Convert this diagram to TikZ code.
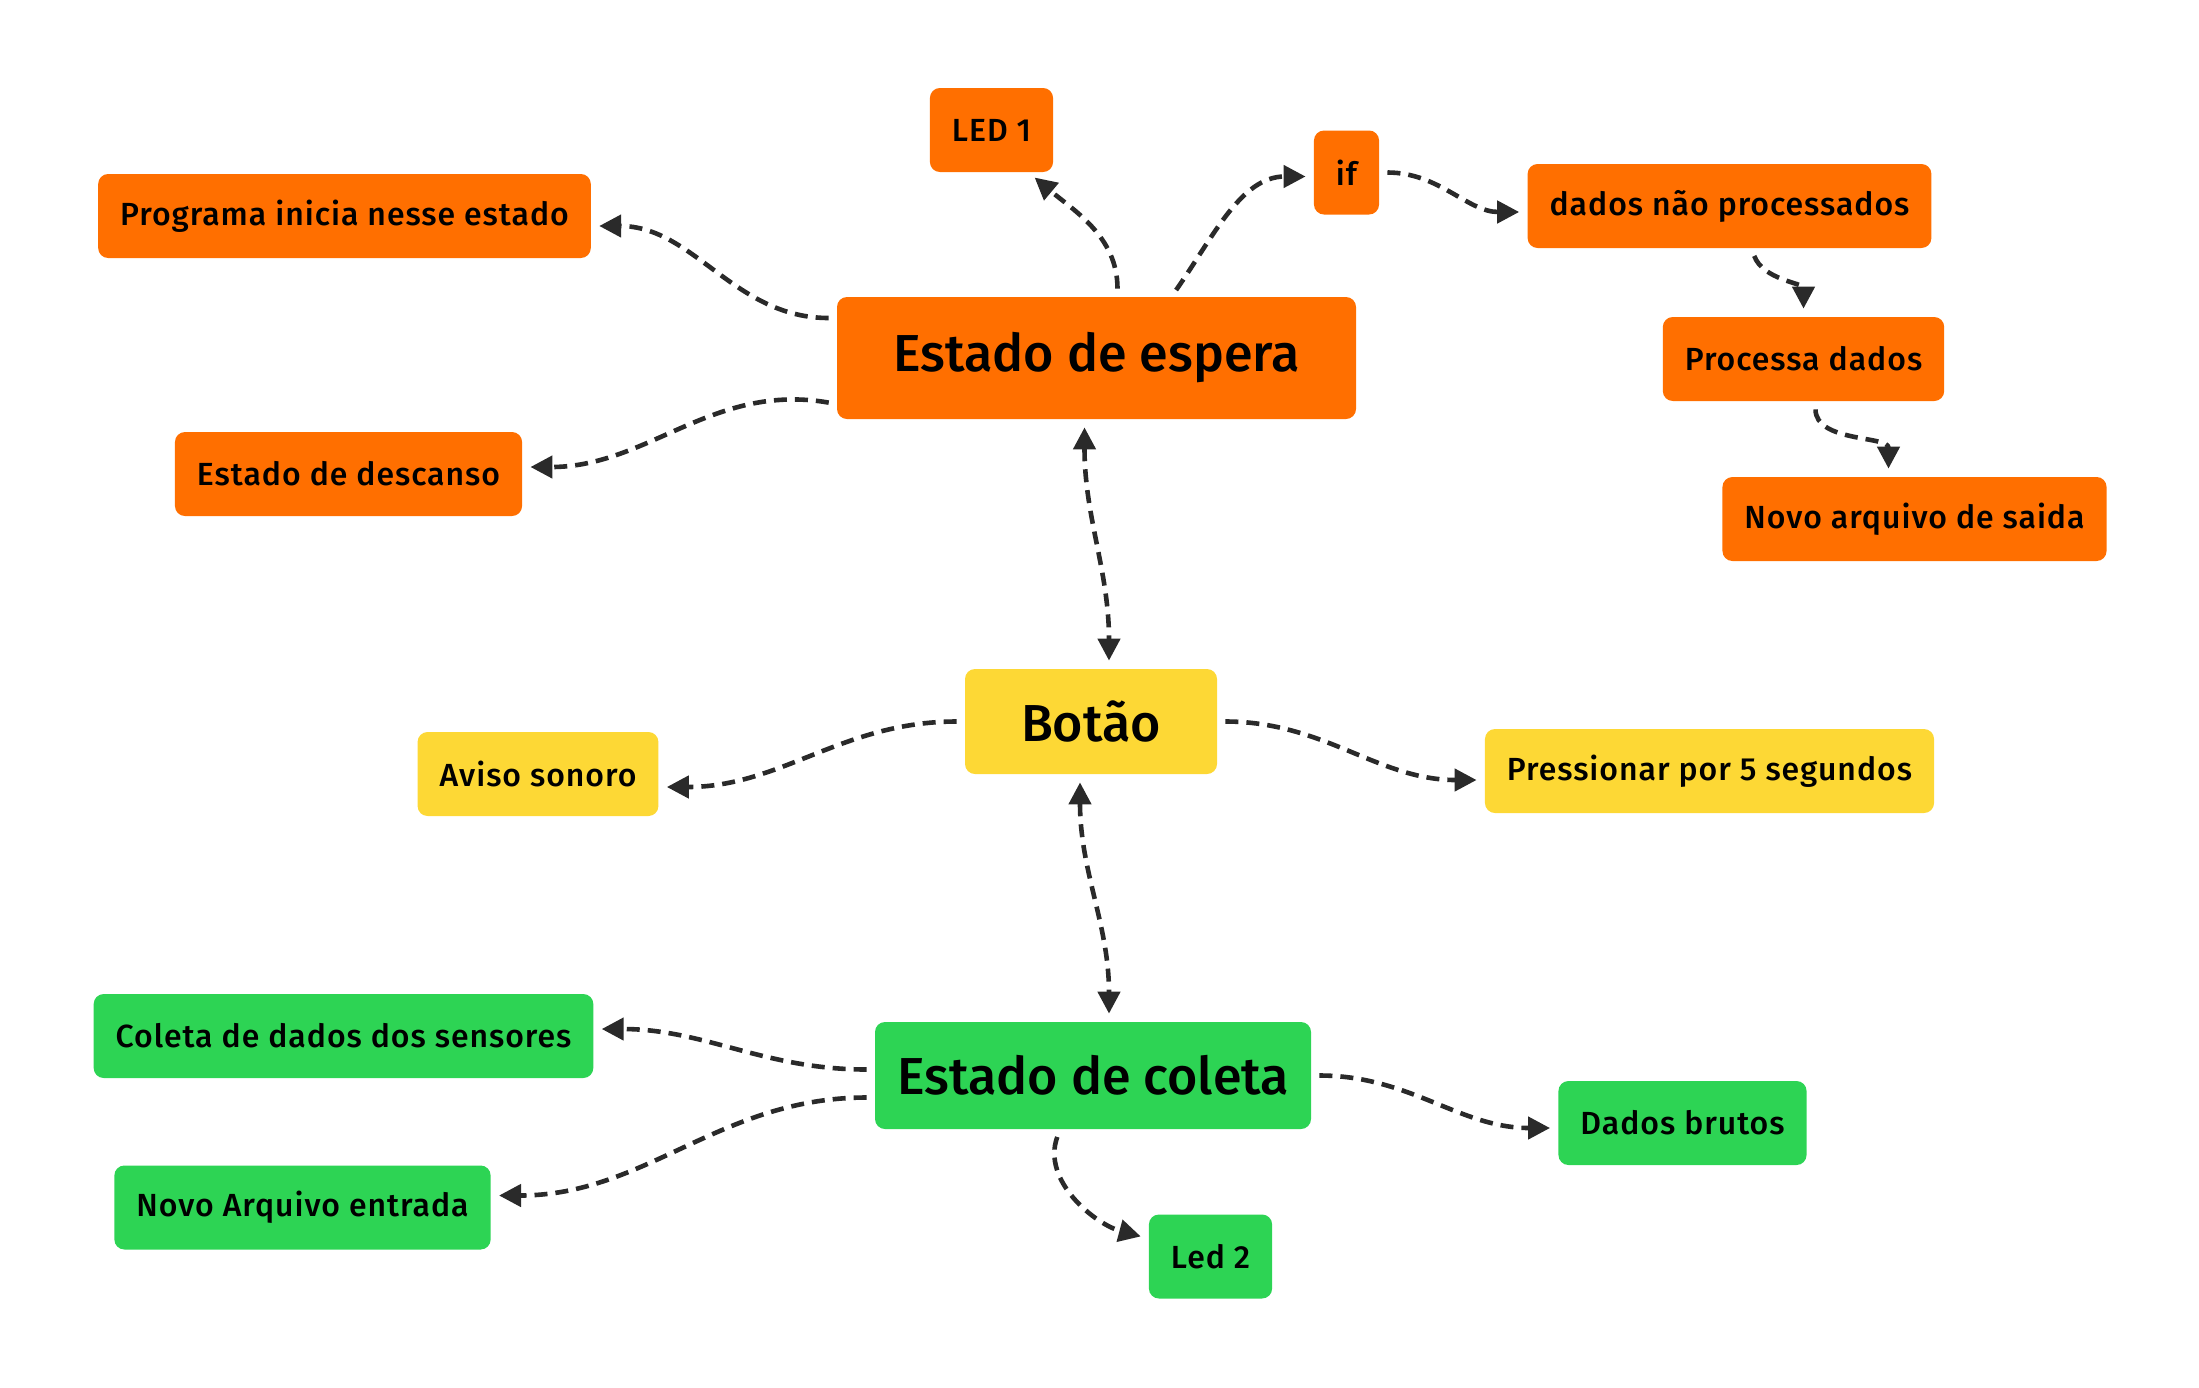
\documentclass[tikz,border=0pt]{standalone}
\usepackage{fontspec}
\setmainfont{Fira Sans}[UprightFont = * Medium]
\newfontfamily\boxfont{Fira Sans}[UprightFont = * Medium, LetterSpace = 3]
\usetikzlibrary{arrows.meta}

\definecolor{esperaOrange}{RGB}{255,111,0}
\definecolor{botaoYellow}{RGB}{253,216,53}
\definecolor{coletaGreen}{RGB}{45,212,84}
\definecolor{linkGray}{RGB}{42,42,42}

\tikzset{
  box/.style={rounded corners=5pt, inner xsep=11pt, inner ysep=0pt,
              minimum height=42pt, text=black,
              font=\boxfont\fontsize{16}{19}\selectfont},
  bigbox/.style={rounded corners=5pt, inner xsep=0pt, inner ysep=0pt,
                 text=black, font=\fontsize{26}{30}\selectfont},
  espera/.style={fill=esperaOrange},
  botao/.style={fill=botaoYellow},
  coleta/.style={fill=coletaGreen},
  link/.style={->, line width=2.3pt, draw=linkGray,
               dash pattern=on 6.5pt off 4pt,
               shorten <=4pt, shorten >=4pt},
}

\begin{document}
\begin{tikzpicture}[x=0.5pt, y=-0.5pt,
    >={Triangle[length=11pt, width=11pt]}, line join=round]

  \useasboundingbox (0,0) rectangle (2199,1387);

  % ── Estado de espera ─────────────────────────────────────────────────────

  \node[bigbox, espera, minimum width=259.5pt, minimum height=61pt]
    (espera) at (1096.5, 358) {Estado de espera};

  \node[box, espera] (programa) at (344.5, 216) {Programa inicia nesse estado};
  \node[box, espera] (descanso) at (348.5, 474) {Estado de descanso};
  \node[box, espera] (led1)     at (991.5, 130) {LED 1};
  \node[box, espera] (iff)      at (1346.5, 172.5) {if};
  \node[box, espera] (naoproc)  at (1729.5, 206) {dados não processados};
  \node[box, espera] (processa) at (1803.5, 359) {Processa dados};
  \node[box, espera] (saida)    at (1914.5, 519) {Novo arquivo de saida};

  \draw[link] ([yshift=20pt]espera.west) to[out=180, in=0]
    ([yshift=-5pt]programa.east);
  \draw[link] ([yshift=-23pt]espera.west) to[out=170, in=0]
    ([yshift=3.5pt]descanso.east);
  \draw[link] ([xshift=10.5pt]espera.north) to[out=90, in=-40]
    ([xshift=-12.5pt]led1.south east);
  \draw[link] ([xshift=37.5pt]espera.north) to[out=55, in=180]
    ([yshift=-2pt]iff.west);
  \draw[link] (iff.east) to[out=0, in=180] ([yshift=-3pt]naoproc.west);
  \draw[link] ([xshift=11pt]naoproc.south) to[out=-70, in=90] (processa.north);
  \draw[link] ([xshift=6pt]processa.south) to[out=-90, in=90]
    ([xshift=-13pt]saida.north);

  % ── Botão ────────────────────────────────────────────────────────────────

  \node[bigbox, botao, minimum width=126pt, minimum height=52.5pt]
    (botao) at (1091, 721.5) {Botão};

  \node[box, botao] (aviso)      at (538, 774) {Aviso sonoro};
  \node[box, botao] (pressionar) at (1709.5, 771) {Pressionar por 5 segundos};

  \draw[link, <->] ([xshift=-6pt]espera.south) to[out=-90, in=90]
    ([xshift=9pt]botao.north);
  \draw[link] (botao.west) to[out=180, in=0] ([yshift=-6.5pt]aviso.east);
  \draw[link] (botao.east) to[out=0, in=180] ([yshift=-4.5pt]pressionar.west);

  % ── Estado de coleta ─────────────────────────────────────────────────────

  \node[bigbox, coleta, minimum width=218pt, minimum height=53.5pt]
    (coleta) at (1093, 1075.5) {Estado de coleta};

  \node[box, coleta] (sensores) at (343.5, 1036) {Coleta de dados dos sensores};
  \node[box, coleta] (entrada)  at (302.5, 1207.5) {Novo Arquivo entrada};
  \node[box, coleta] (brutos)   at (1682.5, 1123) {Dados brutos};
  \node[box, coleta] (led2)     at (1210.5, 1256.5) {Led 2};

  \draw[link, <->] ([xshift=-5.5pt]botao.south) to[out=-90, in=90]
    ([xshift=8pt]coleta.north);
  \draw[link] ([yshift=3pt]coleta.west) to[out=180, in=0]
    ([yshift=3.5pt]sensores.east);
  \draw[link] ([yshift=-11pt]coleta.west) to[out=180, in=0]
    ([yshift=6pt]entrada.east);
  \draw[link] (coleta.east) to[out=0, in=180] ([yshift=-2.5pt]brutos.west);
  \draw[link] ([xshift=-16.5pt]coleta.south) to[out=-110, in=165]
    ([yshift=9pt]led2.west);

\end{tikzpicture}
\end{document}
